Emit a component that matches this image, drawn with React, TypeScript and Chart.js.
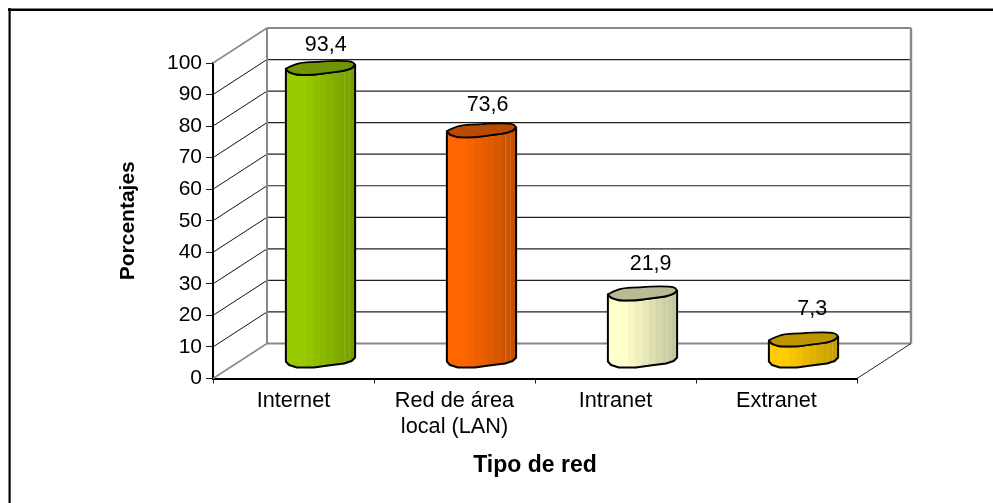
import React, { useEffect, useRef } from "react";
import { Chart, registerables } from "chart.js";

Chart.register(...registerables);

const categories = ["Internet", ["Red de área", "local (LAN)"], "Intranet", "Extranet"];
const values = [93.4, 73.6, 21.9, 7.3];
const barColors = ["#99CC00", "#FF6600", "#FFFFCC", "#FFCC00"];
const yAxisTitle = "Porcentajes";
const xAxisTitle = "Tipo de red";

const FONT = "'Liberation Sans', Arial, sans-serif";
const DEPTH_X = 54;
const DEPTH_Y = 35;

// Outline of the cylinder cap: u = fraction of half width, v = pixels from centre.
const capLower: [number, number][] = [
  [-1, 1], [-0.91, 4.5], [-0.68, 7], [-0.19, 7], [0.22, 5], [0.68, 3], [0.9, 0.5], [1, -3],
];
const capUpper: [number, number][] = [
  [0.95, -5.5], [0.8, -7], [0.25, -7], [-0.05, -6], [-0.55, -5.5], [-0.85, -2],
];

function shade(hex: string, k: number) {
  const n = parseInt(hex.slice(1), 16);
  const c = [(n >> 16) & 255, (n >> 8) & 255, n & 255].map((x) => Math.round(x * k));
  return `rgb(${c[0]},${c[1]},${c[2]})`;
}

const frameAndWalls = {
  id: "frameAndWalls",
  beforeDraw(chart: any) {
    const { ctx, width, height } = chart;
    ctx.save();
    ctx.fillStyle = "#000";
    ctx.fillRect(8, 8.5, width - 8, 2.5);
    ctx.fillRect(8.5, 8, 2.2, height - 8);
    ctx.restore();
  },
  beforeDatasetsDraw(chart: any) {
    const { ctx, chartArea, scales } = chart;
    const y = scales.y;
    const { left, right } = chartArea;
    const line = (x1: number, y1: number, x2: number, y2: number, c: string, w: number) => {
      ctx.beginPath();
      ctx.moveTo(x1, y1);
      ctx.lineTo(x2, y2);
      ctx.strokeStyle = c;
      ctx.lineWidth = w;
      ctx.stroke();
    };
    ctx.save();
    const bx = left + DEPTH_X;
    const brx = right + DEPTH_X;
    y.ticks.forEach((t: any) => {
      const py = y.getPixelForValue(t.value);
      const edge = t.value === y.min || t.value === y.max;
      line(left, py, bx, py - DEPTH_Y, edge ? "#888" : "#111", edge ? 1.5 : 1);
      if (!edge) line(bx, py - DEPTH_Y, brx, py - DEPTH_Y, "#222", 1.2);
    });
    const top = y.getPixelForValue(y.max) - DEPTH_Y;
    const bot = y.getPixelForValue(y.min) - DEPTH_Y;
    line(bx, top, brx, top, "#888", 2);
    line(bx, bot, brx, bot, "#888", 2);
    line(bx, top, bx, bot, "#888", 2);
    line(brx, top, brx, bot, "#888", 2.4);
    line(right, y.getPixelForValue(y.min), brx, bot, "#222", 1);
    ctx.restore();
  },
  beforeDatasetDraw(chart: any, args: any) {
    const { ctx } = chart;
    const meta = args.meta;
    ctx.save();
    meta.data.forEach((el: any, i: number) => {
      const base = el.options.backgroundColor as string;
      const p = el.getProps(["x", "y", "base", "width"], true);
      const cx = p.x + DEPTH_X / 2;
      const hw = p.width / 2;
      const cyTop = p.y - DEPTH_Y / 2 + 1.5;
      const cyBot = p.base - DEPTH_Y / 2;

      // side
      ctx.beginPath();
      ctx.moveTo(cx + capLower[0][0] * hw, cyTop + capLower[0][1]);
      capLower.forEach(([u, v]) => ctx.lineTo(cx + u * hw, cyBot + v));
      [...capLower].reverse().forEach(([u, v]) => ctx.lineTo(cx + u * hw, cyTop + v));
      ctx.closePath();
      ctx.save();
      ctx.clip();
      const bands = 10;
      const bw = p.width / bands;
      for (let b = 0; b < bands; b++) {
        const t = Math.max(0, (b - 2) / (bands - 3));
        ctx.fillStyle = shade(base, 1 - 0.22 * Math.min(t, 1));
        ctx.fillRect(cx - hw + b * bw - 0.5, cyTop - 12, bw + 1, cyBot - cyTop + 24);
      }
      ctx.fillStyle = "rgba(255,255,255,0.16)";
      ctx.fillRect(cx + hw * 0.69, cyTop - 12, 1, cyBot - cyTop + 24);
      ctx.fillRect(cx + hw * 0.82, cyTop - 12, 1, cyBot - cyTop + 24);
      ctx.restore();
      ctx.strokeStyle = "#000";
      ctx.lineWidth = 2;
      ctx.lineJoin = "round";
      ctx.stroke();

      // cap
      const cap = [...capLower, ...capUpper];
      ctx.beginPath();
      cap.forEach(([u, v], k) => {
        const X = cx + u * hw;
        const Y = cyTop + v;
        const [nu, nv] = cap[(k + 1) % cap.length];
        const mx = (X + cx + nu * hw) / 2;
        const my = (Y + cyTop + nv) / 2;
        if (k === 0) ctx.moveTo(X, Y);
        ctx.quadraticCurveTo(X, Y, mx, my);
      });
      ctx.closePath();
      ctx.fillStyle = shade(base, 0.73);
      ctx.fill();
      ctx.lineWidth = 1.7;
      ctx.stroke();

      // value label
      const v = values[i];
      ctx.fillStyle = "#000";
      ctx.font = `21.5px ${FONT}`;
      ctx.textAlign = "center";
      ctx.textBaseline = "middle";
      const lx = cx + 5 + 4 * (1 - v / 100);
      const ly = p.y - DEPTH_Y / 2 - 21 - 9 * (1 - v / 100);
      ctx.fillText(String(v).replace(".", ","), lx, ly);
    });
    ctx.restore();
    return false;
  },
};

export default function App() {
  const ref = useRef<HTMLCanvasElement>(null);
  useEffect(() => {
    document.body.style.margin = "0";
    const chart = new Chart(ref.current as HTMLCanvasElement, {
      type: "bar",
      data: {
        labels: categories as any,
        datasets: [
          {
            data: values,
            backgroundColor: barColors,
            barPercentage: 0.43,
            categoryPercentage: 1,
          },
        ],
      },
      plugins: [frameAndWalls],
      options: {
        responsive: false,
        animation: false,
        layout: { padding: { left: 0, top: 63, right: 136, bottom: 0 } },
        plugins: { legend: { display: false }, tooltip: { enabled: false } },
        scales: {
          x: {
            afterFit: (s: any) => {
              s.height = 124.5;
            },
            grid: { drawOnChartArea: false, tickLength: 5, color: "#222" },
            border: { color: "#000", width: 2 },
            ticks: {
              color: "#000",
              padding: 4,
              maxRotation: 0,
              font: { family: FONT, size: 21.7, lineHeight: 1.22 },
            },
            title: {
              display: true,
              text: xAxisTitle,
              color: "#000",
              font: { family: FONT, size: 23, weight: "bold", lineHeight: 1.2 },
              padding: { top: 0, bottom: 24 },
            },
          },
          y: {
            min: 0,
            max: 100,
            afterFit: (s: any) => {
              s.width = 213;
            },
            grid: { drawOnChartArea: false, tickLength: 7, color: "#222" },
            border: { color: "#000", width: 2 },
            ticks: {
              stepSize: 10,
              color: "#000",
              padding: 4,
              font: { family: FONT, size: 21 },
            },
            title: {
              display: true,
              text: yAxisTitle,
              color: "#000",
              font: { family: FONT, size: 21, weight: "bold", lineHeight: 1.2 },
              padding: { top: 116, bottom: 0 },
            },
          },
        },
      } as any,
    });
    return () => chart.destroy();
  }, []);
  return (
    <div style={{ position: "fixed", left: 0, top: 0, width: 993, height: 503, background: "#fff" }}>
      <canvas ref={ref} width={993} height={503} style={{ display: "block" }} />
    </div>
  );
}
